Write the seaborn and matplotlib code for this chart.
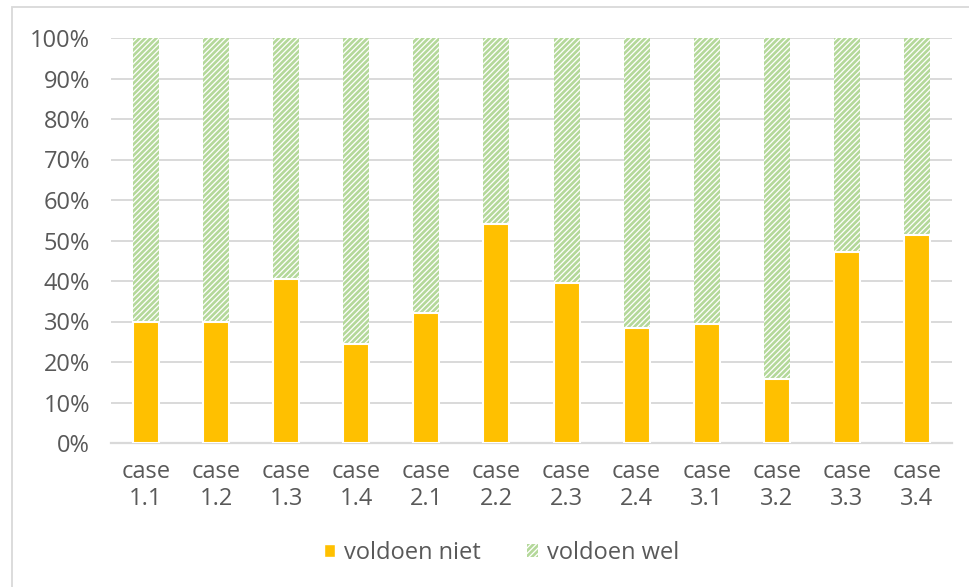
import matplotlib
matplotlib.use("Agg")
import matplotlib.pyplot as plt
from matplotlib.patches import Patch, Rectangle
from matplotlib.ticker import PercentFormatter
import pandas as pd
import seaborn as sns

# Share of cases per category (percent)
cases = ["case\n1.1", "case\n1.2", "case\n1.3", "case\n1.4",
         "case\n2.1", "case\n2.2", "case\n2.3", "case\n2.4",
         "case\n3.1", "case\n3.2", "case\n3.3", "case\n3.4"]
voldoen_niet = [29.8, 29.8, 40.6, 24.4, 32.1, 54.1, 39.5, 28.5, 29.4, 15.8, 47.2, 51.3]
voldoen_wel = [100 - v for v in voldoen_niet]

ORANGE = "#FFC000"
GREEN = "#B4D89A"
GRID = "#D9D9D9"
TEXT = "#595959"

sns.set_theme(style="white")
plt.rcParams["font.family"] = ["Open Sans", "DejaVu Sans"]
plt.rcParams["hatch.linewidth"] = 1.9
plt.rcParams["hatch.color"] = GREEN

df = pd.DataFrame({"case": cases, "niet": voldoen_niet, "wel": voldoen_wel})
df["totaal"] = df["niet"] + df["wel"]

fig = plt.figure(figsize=(9.70, 5.87), dpi=100)
W, H = 970, 587
ax = fig.add_axes([111 / W, 1 - 443 / H, (952 - 111) / W, (443 - 38) / H])

# Hatched full-height bars ("voldoen wel") behind the solid part
sns.barplot(data=df, x="case", y="totaal", color="white", width=0.37,
            saturation=1, ax=ax, zorder=2)
for p in ax.patches:
    p.set_facecolor("white")
    p.set_edgecolor(GREEN)
    p.set_linewidth(0)
    p.set_hatch("//////")
n_wel = len(ax.patches)

# Solid "voldoen niet" bars from the bottom
sns.barplot(data=df, x="case", y="niet", color=ORANGE, width=0.37,
            saturation=1, ax=ax, zorder=3)
for p in ax.patches[n_wel:]:
    p.set_edgecolor("white")
    p.set_linewidth(1.5)

ax.set_ylim(0, 100)
ax.set_xlim(-0.5, len(cases) - 0.5)
ax.set_yticks(range(0, 101, 10))
ax.yaxis.set_major_formatter(PercentFormatter(decimals=0))
ax.grid(axis="y", color=GRID, linewidth=1.4, zorder=0)
ax.set_axisbelow(True)
ax.set_xlabel("")
ax.set_ylabel("")
for s in ["top", "right", "left"]:
    ax.spines[s].set_visible(False)
ax.spines["bottom"].set_color(GRID)
ax.spines["bottom"].set_linewidth(1.6)
ax.tick_params(axis="y", length=0, pad=15, labelsize=17, labelcolor=TEXT)
ax.tick_params(axis="x", length=0, pad=12, labelsize=17, labelcolor=TEXT)
for t in ax.get_xticklabels():
    t.set_linespacing(1.2)

# Chart-area frame (left and top edges)
fig.patches.append(Rectangle((12 / W, -0.05), 1.1, 1 - 7 / H + 0.05,
                             transform=fig.transFigure, fill=False,
                             edgecolor=GRID, linewidth=1.3))

handles = [Patch(facecolor=ORANGE, edgecolor="white", label="voldoen niet"),
           Patch(facecolor="white", edgecolor=GREEN, hatch="//////", linewidth=0,
                 label="voldoen wel")]
fig.legend(handles=handles, loc="center", bbox_to_anchor=(502 / W, 1 - 553 / H),
           ncol=2, frameon=False, fontsize=17, labelcolor=TEXT,
           handlelength=0.45, handleheight=0.45, handletextpad=0.4,
           columnspacing=1.95)

fig.savefig("out.png", dpi=100)
